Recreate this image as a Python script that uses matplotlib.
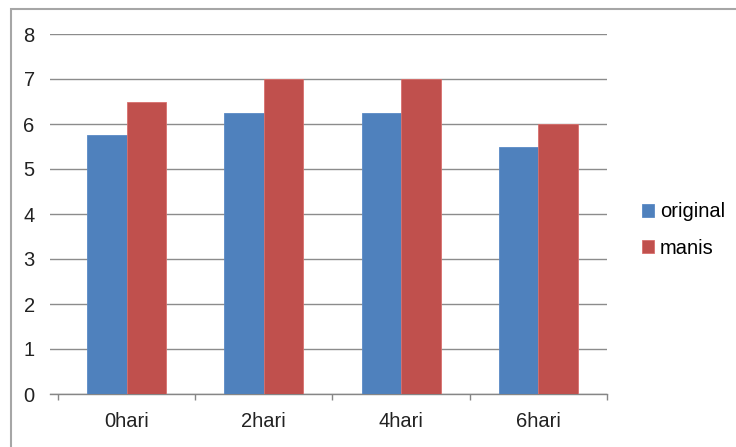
import numpy as np
import matplotlib
matplotlib.use("Agg")
import matplotlib.pyplot as plt
from matplotlib.patches import Rectangle

# data
categories = ['0hari', '2hari', '4hari', '6hari']
original = [5.75, 6.25, 6.25, 5.5]
manis = [6.5, 7.0, 7.0, 6.0]

plt.rcParams['font.family'] = ['Liberation Sans', 'DejaVu Sans']

W, H = 736, 447
fig = plt.figure(figsize=(W / 100, H / 100), dpi=100)
ax = fig.add_axes([50 / W, 1 - 394 / H, (607 - 50) / W, (394 - 34) / H])

x = np.arange(len(categories))
bw = 0.287
ax.bar(x - bw / 2, original, bw, color='#4F81BD', edgecolor='#5A8AC6', linewidth=0.6, label='original', zorder=3)
ax.bar(x + bw / 2, manis, bw, color='#C0504D', edgecolor='#D9706D', linewidth=0.6, label='manis', zorder=3)

ax.set_ylim(0, 8)
ax.set_yticks(range(0, 9))
ax.set_xlim(-0.5 - 8 / 137.5, 3.5)

# category boundary ticks + labels in the middle
ax.set_xticks(np.arange(-0.5, 4, 1.0))
ax.set_xticklabels([])
ax.set_xticks(x, minor=True)
ax.set_xticklabels(categories, minor=True)
ax.tick_params(axis='x', which='major', direction='out', length=4, width=1, color='#868686')
ax.tick_params(axis='x', which='minor', length=0, pad=13, labelsize=14.5, labelcolor='#222222')
ax.tick_params(axis='y', length=0, pad=11, labelsize=14.5, labelcolor='#222222')

ax.yaxis.grid(True, color='#8C8C8C', linewidth=1, zorder=0)
ax.set_axisbelow(True)
for s in ['top', 'right', 'left']:
    ax.spines[s].set_visible(False)
ax.spines['bottom'].set_color('#868686')
ax.spines['bottom'].set_linewidth(1)

fig.legend(loc='center left', bbox_to_anchor=(642 / W, 1 - 230 / H), frameon=False,
           fontsize=14.5, handlelength=0.6, handleheight=0.6, handletextpad=0.3,
           labelspacing=0.85, borderaxespad=0, borderpad=0)

# outer chart border (only left/top visible in the crop)
fig.patches.append(Rectangle((11 / W, -0.1), 1.2, 1.1 - 9 / H, transform=fig.transFigure,
                             fill=False, edgecolor='#A6A6A6', linewidth=1.5))

fig.savefig('out.png', dpi=100, facecolor='white')
